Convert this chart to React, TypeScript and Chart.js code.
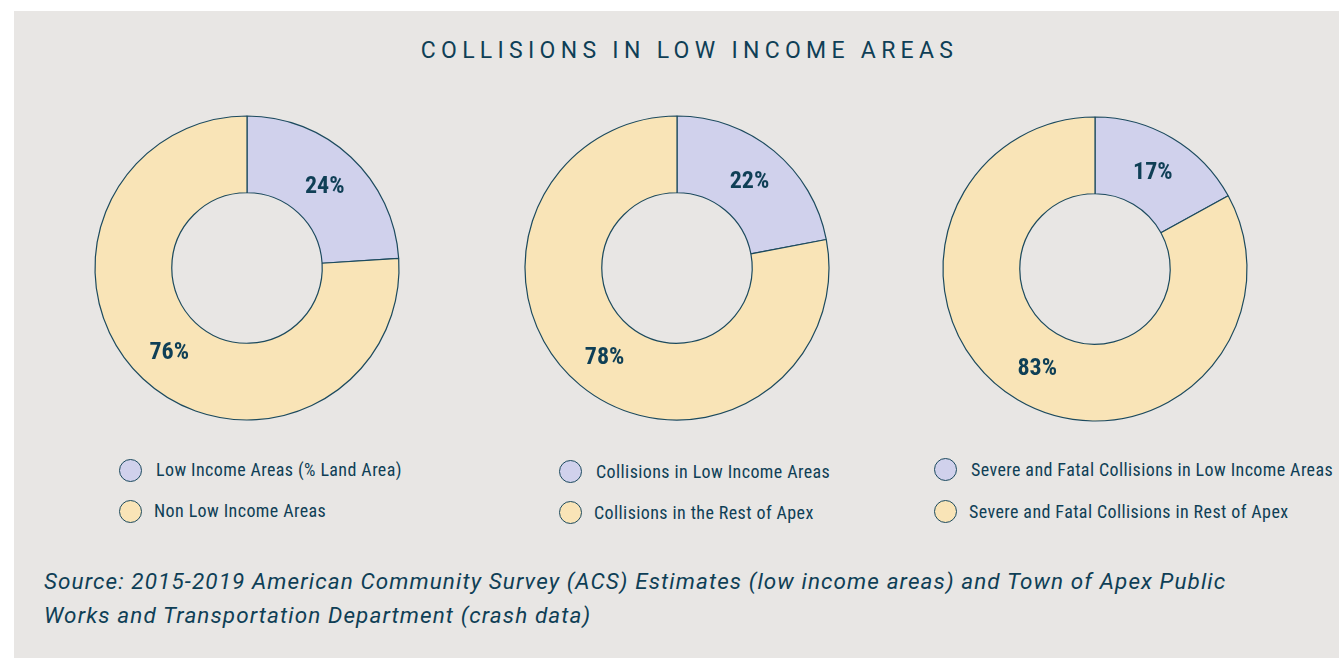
import React, { useEffect, useRef } from "react";
import { Chart, registerables } from "chart.js";

Chart.register(...registerables);

const title = "COLLISIONS IN LOW INCOME AREAS";
const categories1 = ["Low Income Areas (% Land Area)", "Non Low Income Areas"];
const values1 = [24, 76];
const categories2 = ["Collisions in Low Income Areas", "Collisions in the Rest of Apex"];
const values2 = [22, 78];
const categories3 = ["Severe and Fatal Collisions in Low Income Areas", "Severe and Fatal Collisions in Rest of Apex"];
const values3 = [17, 83];
const sourceLines = [
  "Source: 2015-2019 American Community Survey (ACS) Estimates (low income areas) and Town of Apex Public",
  "Works and Transportation Department (crash data)",
];

const COLORS = ["#d0d1ec", "#f9e4b7"];
const BORDER = "#1c4a5e";
const TEXT = "#0f3f56";
const BG = "#e8e6e4";

const labelPlugin = {
  id: "pctLabels",
  afterDatasetsDraw(chart: any) {
    const ctx = chart.ctx;
    const meta = chart.getDatasetMeta(0);
    const data = chart.data.datasets[0].data;
    ctx.save();
    ctx.fillStyle = TEXT;
    ctx.font = "bold 24px 'Roboto Condensed', Roboto, 'DejaVu Sans', sans-serif";
    ctx.textAlign = "center";
    ctx.textBaseline = "middle";
    meta.data.forEach((arc: any, i: number) => {
      const p = arc.tooltipPosition();
      ctx.fillText(data[i] + "%", p.x, p.y + 2);
    });
    ctx.restore();
  },
};

function Donut({ labels, values, cx, cy }: { labels: string[]; values: number[]; cx: number; cy: number }) {
  const ref = useRef<HTMLCanvasElement>(null);
  useEffect(() => {
    if (!ref.current) return;
    const chart = new Chart(ref.current, {
      type: "doughnut",
      data: {
        labels,
        datasets: [
          {
            data: values,
            backgroundColor: COLORS,
            borderColor: BORDER,
            borderWidth: 1.2,
          },
        ],
      },
      options: {
        animation: false,
        responsive: false,
        radius: 152,
        cutout: "49.5%",
        plugins: { legend: { display: false }, tooltip: { enabled: false } },
      } as any,
      plugins: [labelPlugin],
    });
    return () => chart.destroy();
  }, []);
  const size = 330;
  return (
    <canvas
      ref={ref}
      width={size}
      height={size}
      style={{ position: "absolute", left: cx - size / 2, top: cy - size / 2, width: size, height: size }}
    />
  );
}

function Legend({ labels, x, ys, textX }: { labels: string[]; x: number; ys: number[]; textX: number[] }) {
  return (
    <>
      {labels.map((l, i) => (
        <React.Fragment key={l}>
          <div
            style={{
              position: "absolute",
              left: x - 11.5,
              top: ys[i] - 11.5,
              width: 21,
              height: 21,
              borderRadius: "50%",
              background: COLORS[i],
              border: `1.2px solid ${BORDER}`,
            }}
          />
          <div
            style={{
              position: "absolute",
              left: textX[i],
              top: ys[i] - 12,
              height: 24,
              lineHeight: "24px",
              fontSize: 18,
              letterSpacing: "0.4px",
              fontFamily: "'Roboto Condensed', Roboto, sans-serif",
              color: TEXT,
              whiteSpace: "nowrap",
            }}
          >
            {l}
          </div>
        </React.Fragment>
      ))}
    </>
  );
}

export default function App() {
  return (
    <div style={{ position: "fixed", left: 0, top: 0, width: 1339, height: 659, background: "#ffffff", overflow: "hidden" }}>
      <div style={{ position: "absolute", left: 14, top: 11, width: 1325, height: 647, background: BG }} />
      <div
        style={{
          position: "absolute",
          left: 0,
          width: 1339,
          top: 35,
          textAlign: "center",
          fontFamily: "Roboto, sans-serif",
          fontSize: 23,
          letterSpacing: "5.3px",
          color: TEXT,
          lineHeight: "32px",
          paddingLeft: 20,
        }}
      >
        {title}
      </div>
      <Donut labels={categories1} values={values1} cx={247} cy={268} />
      <Donut labels={categories2} values={values2} cx={677} cy={268} />
      <Donut labels={categories3} values={values3} cx={1095} cy={269} />
      <Legend labels={categories1} x={130.5} ys={[470, 511]} textX={[156, 154]} />
      <Legend labels={categories2} x={570.5} ys={[471.5, 512.5]} textX={[596, 594]} />
      <Legend labels={categories3} x={945} ys={[469.5, 511.5]} textX={[971, 969]} />
      {sourceLines.map((s, i) => (
        <div
          key={i}
          style={{
            position: "absolute",
            left: 44,
            top: 581 - 17 + i * 34,
            height: 34,
            lineHeight: "34px",
            fontFamily: "Roboto, sans-serif",
            fontStyle: "italic",
            fontSize: 22.5,
            letterSpacing: "1.1px",
            color: TEXT,
            whiteSpace: "nowrap",
          }}
        >
          {s}
        </div>
      ))}
    </div>
  );
}
